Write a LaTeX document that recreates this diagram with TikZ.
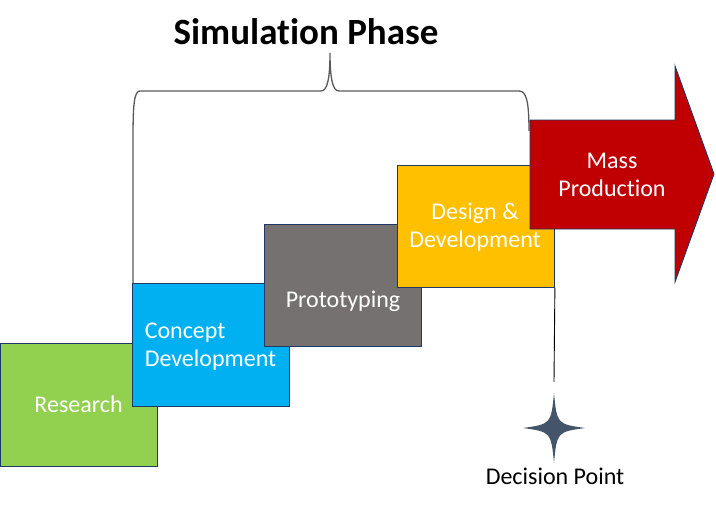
\documentclass[tikz,border=0pt]{standalone}
\usepackage{fontspec}
\setmainfont{Carlito}[Ligatures=NoCommon]
\definecolor{navy}{HTML}{1F3864}
\definecolor{cResearch}{HTML}{92D050}
\definecolor{cConcept}{HTML}{00B0F0}
\definecolor{cProto}{HTML}{767171}
\definecolor{cDesign}{HTML}{FFC000}
\definecolor{cMass}{HTML}{C00000}
\definecolor{cStar}{HTML}{44546A}
\definecolor{braceGray}{HTML}{595959}
\begin{document}
\begin{tikzpicture}[x=1pt,y=-1pt,
  stage/.style={draw=navy, line width=0.9pt, minimum width=157pt, minimum height=123pt, anchor=north west, inner sep=0pt},
  lbl/.style={text=white, font=\fontsize{24}{28}\selectfont, inner sep=0pt},
  brace/.style={draw=braceGray, line width=1.3pt},
  caption/.style={text=black, font=\fontsize{24}{28}\selectfont, inner sep=0pt}]
\useasboundingbox (0,0) rectangle (716,506);

% title and brace
\node[font=\bfseries\fontsize{37}{42}\selectfont, anchor=base, inner sep=0pt] (title) at (306,44) {Simulation Phase};
\draw[brace] (133,283) -- (133,140) .. controls (133,105) and (134,91) .. (140,91) -- (321,91)
  .. controls (327,91) and (330,80) .. (330,53) .. controls (330,80) and (333,91) .. (339,91)
  -- (519,91) .. controls (526,91) and (529,100) .. (529,131);

% stages
\node[stage, fill=cResearch] (research) at (0,343) {};
\node[lbl, anchor=base] (researchtxt) at (78.5,412) {Research};
\node[stage, fill=cConcept] (concept) at (132,283) {};
\node[lbl, align=left, anchor=center] (concepttxt) at (210.5,347) {Concept\\Development};
\node[stage, fill=cProto, minimum height=122pt] (proto) at (264,224) {};
\node[lbl, anchor=base] (prototxt) at (343,307) {Prototyping};
\node[stage, fill=cDesign, minimum height=122pt] (design) at (397,165) {};
\node[lbl, align=center, anchor=center] (designtxt) at (475,227) {Design \&\\Development};

% decision point
\coordinate (dp) at (554,382);
\draw[black, line width=0.9pt] (design.south east) -- (dp);
\fill[cStar] (554,393) .. controls (557,424) .. (585,428) .. controls (557,432) .. (554,463)
  .. controls (551,432) .. (523,428) .. controls (551,424) .. (554,393) -- cycle;
\node[caption, anchor=base] (dptxt) at (555,484) {Decision Point};

% mass production arrow
\draw[fill=cMass, draw=navy, line width=0.9pt] (530,120) -- (675,120) -- (675,66) -- (714,174)
  -- (675,282) -- (675,229) -- (530,229) -- cycle;
\node[lbl, align=center, anchor=center] (masstxt) at (612,175) {Mass\\Production};
\end{tikzpicture}
\end{document}
